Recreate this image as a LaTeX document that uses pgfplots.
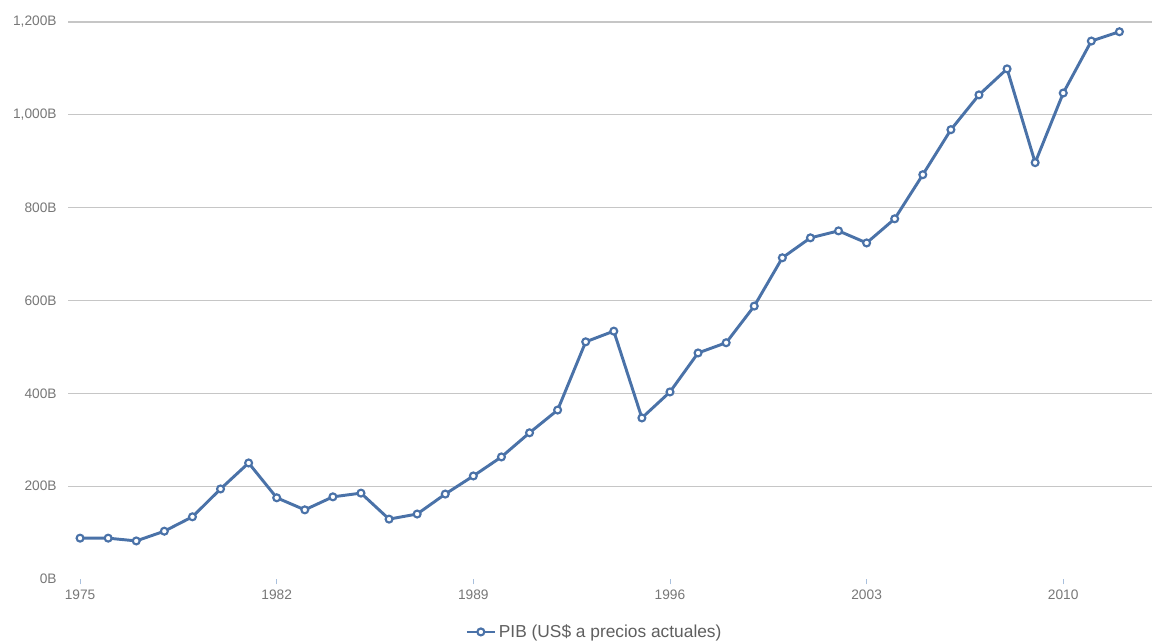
\documentclass[border=0pt]{standalone}
\usepackage{fontspec}
\setmainfont{Liberation Sans}
\usepackage{pgfplots}
\pgfplotsset{compat=1.18}
\definecolor{pibline}{HTML}{4A72A8}
\definecolor{gridgray}{HTML}{C6C6C6}
\definecolor{labelgray}{HTML}{777777}
\definecolor{tickblue}{HTML}{A9C0DD}

\begin{document}
\begin{tikzpicture}
% page = 1152 x 642 px at 0.75pt/px
\path[use as bounding box] (0pt,0pt) rectangle (864pt,481.5pt);
\begin{axis}[
    at={(51pt,47.25pt)}, anchor=south west,
    scale only axis,
    width=813pt, height=417.75pt,
    xmin=1974.57, xmax=2013.16,
    ymin=0, ymax=1200,
    xtick={1975,1982,1989,1996,2003,2010},
    ytick={200,400,...,1200},
    extra y ticks={0},
    extra y tick style={grid=none},
    ymajorgrids,
    grid style={gridgray, line width=0.9pt},
    axis line style={draw=none},
    ytick style={draw=none},
    xtick style={tickblue, line width=0.6pt},
    major tick length=4pt,
    tick align=outside,
    xtick pos=bottom,
    ytick pos=left,
    /pgf/number format/assume math mode=true,
    ticklabel style={font=\fontsize{10.3}{12}\selectfont, text=labelgray},
    xticklabel style={/pgf/number format/1000 sep=, yshift=-1pt},
    yticklabel={\pgfmathprintnumber[1000 sep={,}]{\tick}B},
    yticklabel style={xshift=-1pt},
    legend style={at={(0.486,-0.095)}, anchor=center, draw=none,
        font=\fontsize{13}{15}\selectfont, text=labelgray!80!black},
    legend image code/.code={\draw[mark repeat=2,mark phase=2,line width=2pt]
        plot coordinates {(0cm,0cm) (0.37cm,0cm) (0.74cm,0cm)};},
]
\addplot[color=pibline, line width=2.2pt, mark=*, mark size=2.6pt,
    mark options={fill=white, line width=1.6pt}]
coordinates {
(1975,88) (1976,88) (1977,82) (1978,103) (1979,134) (1980,194)
(1981,250) (1982,175) (1983,149) (1984,177) (1985,185) (1986,129)
(1987,140) (1988,183) (1989,222) (1990,263) (1991,315) (1992,364)
(1993,511) (1994,534) (1995,347) (1996,403) (1997,487) (1998,509)
(1999,588) (2000,692) (2001,735) (2002,750) (2003,724) (2004,776)
(2005,871) (2006,968) (2007,1043) (2008,1099) (2009,897) (2010,1047)
(2011,1159) (2012,1179)
};
\addlegendentry{PIB (US\$ a precios actuales)}
\end{axis}
\end{tikzpicture}
\end{document}
